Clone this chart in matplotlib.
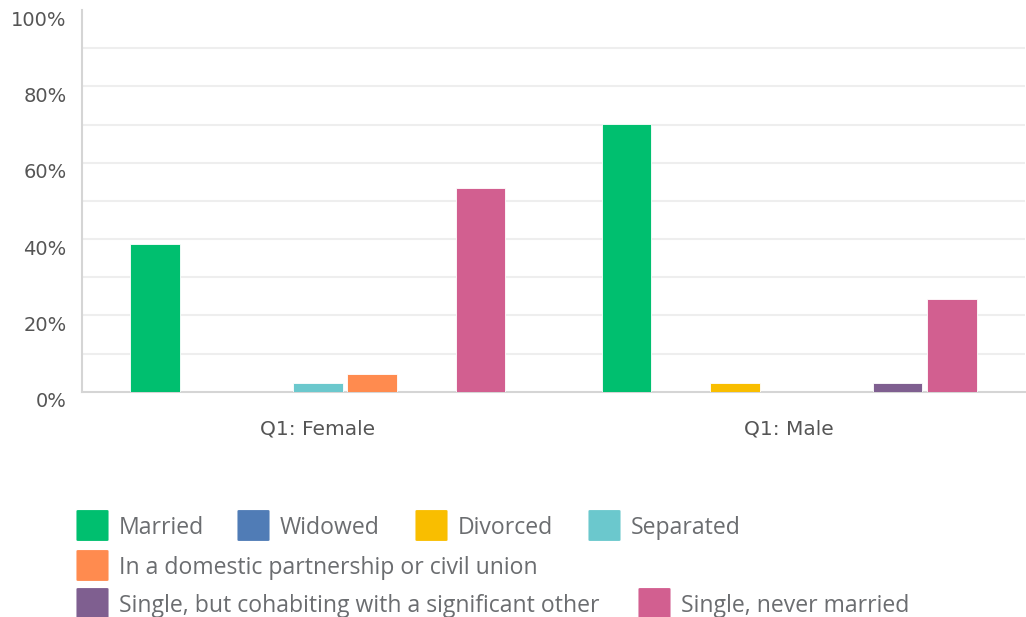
import matplotlib as mpl
mpl.use('Agg')
import matplotlib.pyplot as plt
from matplotlib.patches import FancyBboxPatch
from matplotlib.transforms import ScaledTranslation
import numpy as np

groups = ['Q1: Female', 'Q1: Male']
categories = ['Married', 'Widowed', 'Divorced', 'Separated',
              'In a domestic partnership or civil union',
              'Single, but cohabiting with a significant other',
              'Single, never married']
female = [38.8, 0, 0, 2.2, 4.7, 0, 53.4]
male = [70.3, 0, 2.2, 0, 0, 2.2, 24.3]
colors = ['#00bf6f', '#507cb6', '#f9be00', '#6bc8cd', '#ff8b4f', '#7f5f90', '#d25f90']

W, H = 1026, 617
fig = plt.figure(figsize=(W / 100, H / 100), dpi=100)
plt.rcParams['font.family'] = ['DejaVu Sans']
ax = fig.add_axes([82 / W, 1 - 391.7 / H, (1025 - 82) / W, (391.7 - 10.2) / H])

x = np.arange(len(groups))
slot = 0.115
bw = 0.105
for i, cat in enumerate(categories):
    vals = [female[i], male[i]]
    ax.bar(x + (i - 3) * slot, vals, width=bw, color=colors[i],
           edgecolor='white', linewidth=0.6, zorder=3)

ax.set_xlim(-0.5, 1.5)
ax.set_ylim(0, 100)
ax.set_xticks(x)
ax.set_xticklabels(groups, fontsize=14.5, color='#555555')
yt = list(range(0, 101, 10))
ax.set_yticks(yt)
ax.set_yticklabels([f'{v}%' if v % 20 == 0 else '' for v in yt], fontsize=14, color='#555555')
ax.tick_params(axis='both', length=0)
ax.tick_params(axis='y', pad=11)
ax.tick_params(axis='x', pad=20)
for lab in ax.get_yticklabels():
    lab.set_transform(lab.get_transform() + ScaledTranslation(0, -8 / 100, fig.dpi_scale_trans))

ax.grid(axis='y', color='#eeeeee', linewidth=1.5, zorder=0)
gl = ax.get_ygridlines()
gl[0].set_visible(False)
gl[-1].set_visible(False)
for s in ['top', 'right']:
    ax.spines[s].set_visible(False)
for s in ['left', 'bottom']:
    ax.spines[s].set_color('#d5d5d5')
    ax.spines[s].set_linewidth(1.5)

# legend drawn by hand, flow layout as in the reference
legend_pos = [(78, 525), (239, 525), (417, 525), (590, 525),
              (78, 565), (78, 603), (640, 603)]
for (px, py), cat, c in zip(legend_pos, categories, colors):
    p = FancyBboxPatch((px / W, 1 - (py + 15) / H), 29 / W, 29 / H,
                       boxstyle='round,pad=0.0015', transform=fig.transFigure,
                       facecolor=c, edgecolor='none')
    fig.patches.append(p)
    fig.text((px + 41) / W, 1 - (py + 3) / H, cat, fontsize=16.6,
             color='#6b6d70', va='center', ha='left', family='Open Sans')

fig.savefig('out.png', dpi=100, facecolor='white')
